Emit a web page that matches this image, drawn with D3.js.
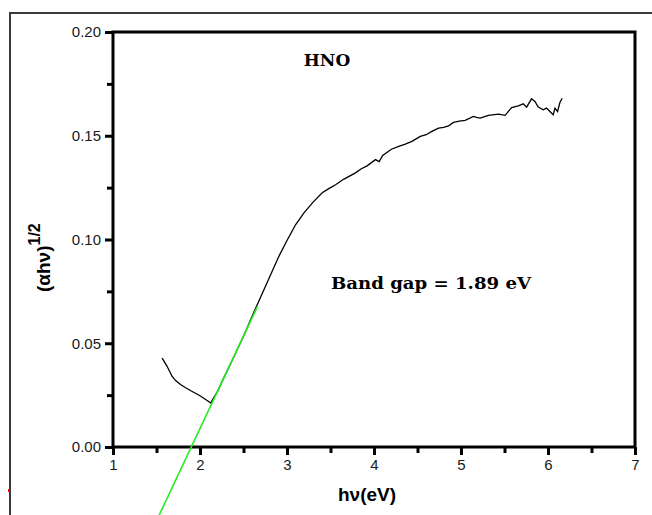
<!DOCTYPE html>
<html><head><meta charset="utf-8">
<script src="https://cdn.jsdelivr.net/npm/d3@7"></script>
<style>body{margin:0;background:#fff}svg{display:block}</style>
</head><body>
<svg id="c" width="652" height="515"></svg>
<script>
// data
const curveX = [1.565,1.62,1.68,1.72,1.78,1.83,1.90,2.00,2.06,2.125,2.14,2.2,2.3,2.4,2.5,2.633,2.763,2.908,3.0,3.10,3.195,3.30,3.405,3.48,3.558,3.65,3.787,3.85,3.92,4.017,4.06,4.1,4.2,4.284,4.36,4.436,4.532,4.60,4.665,4.742,4.80,4.857,4.914,4.98,5.048,5.143,5.18,5.22,5.315,5.43,5.507,5.55,5.582,5.659,5.716,5.754,5.811,5.85,5.888,5.946,5.983,6.022,6.06,6.08,6.11,6.137,6.163];
const curveY = [0.0428,0.039,0.034,0.032,0.030,0.0287,0.027,0.0247,0.023,0.0212,0.0225,0.0267,0.0356,0.0445,0.0534,0.0663,0.0784,0.092,0.0995,0.1072,0.1128,0.118,0.1225,0.1245,0.1264,0.129,0.1321,0.134,0.1355,0.1385,0.1375,0.1405,0.1435,0.1449,0.146,0.1473,0.1497,0.1505,0.1521,0.1537,0.154,0.1548,0.1564,0.157,0.1574,0.1593,0.1588,0.1585,0.1598,0.1604,0.1598,0.162,0.1636,0.1644,0.1654,0.1638,0.1678,0.1665,0.1638,0.1625,0.1633,0.1617,0.1601,0.1633,0.1617,0.166,0.1681];
const fitX = [1.53, 2.66];
const fitY = [-0.0329, 0.0677];
const xTicks = [1,2,3,4,5,6,7];
const xMinor = [1.5,2.5,3.5,4.5,5.5,6.5];
const yTicks = [0,0.05,0.10,0.15,0.20];
const yMinor = [0.025,0.075,0.125,0.175];
const yTickLabels = ["0.00","0.05","0.10","0.15","0.20"];

const svg = d3.select("#c");
const L=113, R=635, T=32, B=447;
const x = d3.scaleLinear().domain([1,7]).range([L,R]);
const y = d3.scaleLinear().domain([0,0.2]).range([B,T]);

// outer border
svg.append("path").attr("d","M10,515V13H652").attr("fill","none").attr("stroke","#3a3a3a").attr("stroke-width",2);
svg.append("rect").attr("x",8).attr("y",489).attr("width",2).attr("height",3).attr("fill","#e00");

// frame
svg.append("rect").attr("x",L).attr("y",T).attr("width",R-L).attr("height",B-T)
  .attr("fill","none").attr("stroke","#000").attr("stroke-width",3);

// axes
const xa = svg.append("g").attr("transform",`translate(0,${B})`)
  .call(d3.axisBottom(x).tickValues(xTicks).tickSize(8).tickPadding(4).tickFormat(d3.format("d")));
const xm = svg.append("g").attr("transform",`translate(0,${B})`)
  .call(d3.axisBottom(x).tickValues(xMinor).tickSize(6).tickFormat(""));
const ya = svg.append("g").attr("transform",`translate(${L},0)`)
  .call(d3.axisLeft(y).tickValues(yTicks).tickSize(8).tickPadding(4).tickFormat((d,i)=>yTickLabels[i]));
const ym = svg.append("g").attr("transform",`translate(${L},0)`)
  .call(d3.axisLeft(y).tickValues(yMinor).tickSize(6).tickFormat(""));
[xa,xm,ya,ym].forEach(g=>{
  g.select(".domain").remove();
  g.selectAll(".tick line").attr("stroke","#000").attr("stroke-width",3);
  g.selectAll("text").attr("font-family","Liberation Sans, Arial, sans-serif").attr("font-size",15).attr("fill","#1a1a1a");
});

// curve
const line = d3.line().x(d=>x(d[0])).y(d=>y(d[1]));
svg.append("path").datum(curveX.map((v,i)=>[v,curveY[i]])).attr("d",line)
  .attr("fill","none").attr("stroke","#000").attr("stroke-width",1.3);
svg.append("path").datum(fitX.map((v,i)=>[v,fitY[i]])).attr("d",line)
  .attr("fill","none").attr("stroke","#22ee22").attr("stroke-width",1.6);

// annotations
svg.append("text").attr("x",327).attr("y",66).attr("text-anchor","middle")
  .attr("font-family","DejaVu Serif, serif").attr("font-weight","bold").attr("font-size",17).text("HNO");
svg.append("text").attr("x",331).attr("y",289)
  .attr("font-family","DejaVu Serif, serif").attr("font-weight","bold").attr("font-size",17)
  .attr("textLength",200).attr("lengthAdjust","spacingAndGlyphs").text("Band gap = 1.89 eV");

// axis titles
svg.append("text").attr("x",367).attr("y",501).attr("text-anchor","middle")
  .attr("font-family","Liberation Sans, Arial, sans-serif").attr("font-weight","bold").attr("font-size",19)
  .text("hν(eV)");
const yt = svg.append("text").attr("transform","translate(50,292) rotate(-90)")
  .attr("font-family","Liberation Sans, Arial, sans-serif").attr("font-weight","bold").attr("font-size",19);
yt.append("tspan").text("(αhν)");
yt.append("tspan").attr("dy",-10).attr("font-size",16).text("1/2");
</script>
</body></html>
